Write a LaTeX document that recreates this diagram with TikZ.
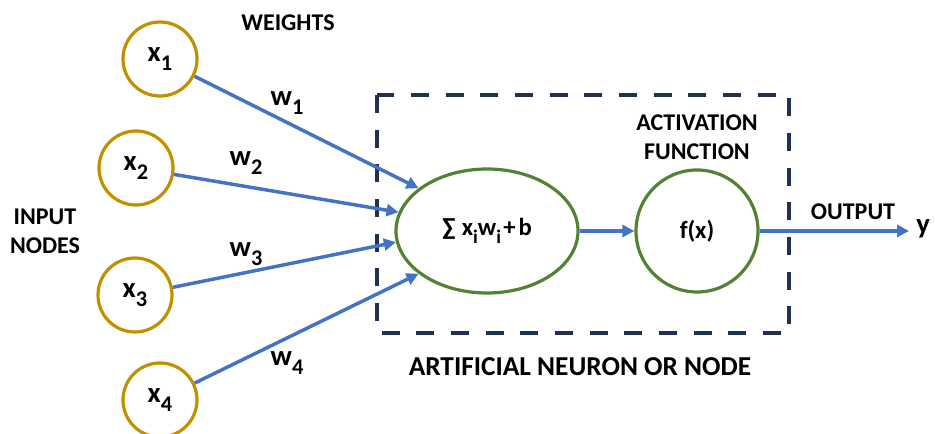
\documentclass[tikz,border=0pt]{standalone}
\usepackage{fontspec}
\usepackage{graphicx}
\setmainfont{Carlito}
\usetikzlibrary{shapes.geometric,arrows.meta}
\definecolor{inputgold}{HTML}{BF9000}
\definecolor{neurongreen}{HTML}{548235}
\definecolor{linkblue}{HTML}{4472C4}
\definecolor{boxnavy}{HTML}{1F3050}
% lowered, slightly reduced index
\newcommand{\lowidx}[1]{\raisebox{-0.3em}{\scalebox{0.78}{#1}}}
\tikzset{
  caption/.style={font=\bfseries\fontsize{18}{21.5}\selectfont, align=center, inner sep=0pt},
  symbol/.style={font=\bfseries\fontsize{21.5}{25}\selectfont, inner sep=0pt},
  inputnode/.style={circle, draw=inputgold, line width=2.4pt, minimum size=55.5pt, inner sep=0pt,
    font=\bfseries\fontsize{21.5}{25}\selectfont},
  sumnode/.style={ellipse, draw=neurongreen, line width=2.4pt, minimum width=136.5pt, minimum height=93pt,
    inner sep=0pt, font=\bfseries\fontsize{18.5}{22}\selectfont},
  actnode/.style={circle, draw=neurongreen, line width=2.4pt, minimum size=91.5pt, inner sep=0pt,
    font=\bfseries\fontsize{18.5}{22}\selectfont},
  link/.style={draw=linkblue, line width=2.6pt, -{Triangle[length=9pt,width=9pt]}},
  neuronbox/.style={draw=boxnavy, line width=3.2pt, dash pattern=on 13.5pt off 12.5pt},
}
\begin{document}
\begin{tikzpicture}[x=0.75pt, y=-0.75pt]
  \useasboundingbox (0,0) rectangle (935,434);

  % boundary of the artificial neuron
  \draw[neuronbox] (377,95) rectangle (789,333);

  % input nodes
  \node[inputnode] (x1) at (160,59)  {x\lowidx{1}};
  \node[inputnode] (x2) at (136,168) {x\lowidx{2}};
  \node[inputnode] (x3) at (135,295) {x\lowidx{3}};
  \node[inputnode] (x4) at (160,400) {x\lowidx{4}};

  % summation and activation
  \node[sumnode] (sum) at (487,231) {∑\hspace{0.25em}x\lowidx{i}w\lowidx{i}\hspace{0.1em}+\hspace{0.12em}b};
  \node[actnode] (act) at (697,231) {f(x)};

  % output end point and label
  \coordinate (out) at (909,231);
  \node[symbol, anchor=west] (y) at (916,229) {y};

  % weighted connections
  \draw[link] (x1) -- (sum.148);
  \draw[link] (x2) -- (sum.168);
  \draw[link] (x3) -- (sum.187);
  \draw[link] (x4) -- (sum.212);
  \draw[link] (sum) -- (act);
  \draw[link] (act) -- (out);

  % weight labels
  \node[symbol] (w1) at (287,103) {w\lowidx{1}};
  \node[symbol] (w2) at (246,163) {w\lowidx{2}};
  \node[symbol] (w3) at (246,254) {w\lowidx{3}};
  \node[symbol] (w4) at (287,363) {w\lowidx{4}};

  % captions
  \node[caption] (weights) at (288,23) {WEIGHTS};
  \node[caption] (inputs) at (45,231) {INPUT\\NODES};
  \node[caption] (actlabel) at (697,137) {ACTIVATION\\FUNCTION};
  \node[caption] (output) at (853,212) {OUTPUT};
  \node[caption, font=\bfseries\fontsize{20.5}{24}\selectfont] (neuron) at (580,367) {ARTIFICIAL NEURON OR NODE};
\end{tikzpicture}
\end{document}
